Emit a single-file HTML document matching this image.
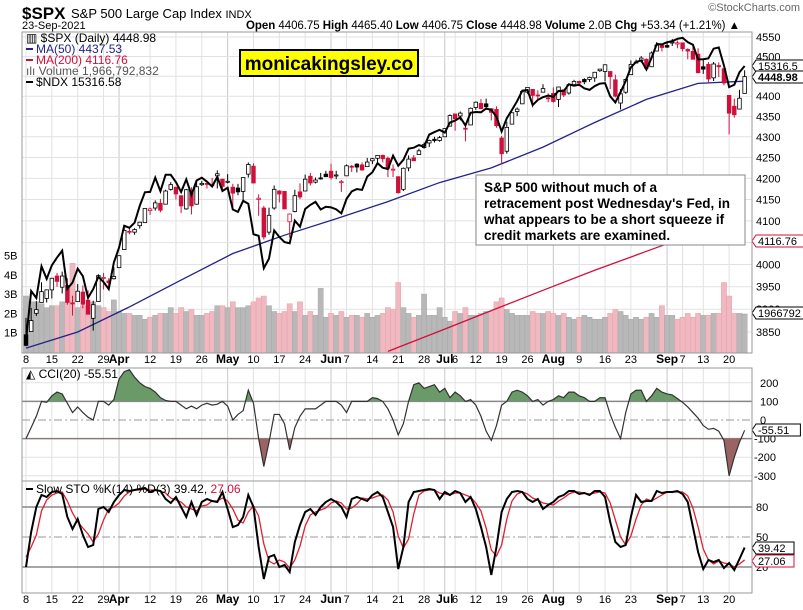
<!DOCTYPE html>
<html><head><meta charset="utf-8"><style>
html,body{margin:0;padding:0;background:#fff;}
svg{display:block;font-family:"Liberation Sans",Arial,sans-serif;}
</style></head><body>
<svg id="c" width="803" height="610" viewBox="0 0 803 610" xmlns="http://www.w3.org/2000/svg">
<defs>
<clipPath id="mainClip"><rect x="22" y="32" width="730" height="321"/></clipPath>
<clipPath id="cciUp"><rect x="22" y="368" width="730" height="33"/></clipPath>
<clipPath id="cciDn"><rect x="22" y="438" width="730" height="43"/></clipPath>
<clipPath id="stoClip"><rect x="22" y="482" width="730" height="111"/></clipPath>
</defs>
<g id="grid"></g>
<g id="vol" clip-path="url(#mainClip)"></g>
<g id="ma" clip-path="url(#mainClip)"></g>
<g id="candles" clip-path="url(#mainClip)"></g>
<g id="ndx" clip-path="url(#mainClip)"></g>
<g id="cci"></g>
<g id="sto" clip-path="url(#stoClip)"></g>
<g id="axes"></g>

<rect x="22" y="32" width="730" height="321" fill="none" stroke="#999"/>
<rect x="22" y="368" width="730" height="113" fill="none" stroke="#999"/>
<rect x="22" y="481" width="730" height="112" fill="none" stroke="#999"/>

<text x="22" y="19" font-size="17" font-weight="bold">$SPX</text>
<text x="71" y="18" font-size="13">S&amp;P 500 Large Cap Index <tspan font-size="11">INDX</tspan></text>
<text x="22" y="29" font-size="11">23-Sep-2021</text>
<text x="246" y="29" font-size="11.5" textLength="494" lengthAdjust="spacing"><tspan font-weight="bold">Open</tspan> 4406.75 <tspan font-weight="bold">High</tspan> 4465.40 <tspan font-weight="bold">Low</tspan> 4406.75 <tspan font-weight="bold">Close</tspan> 4448.98 <tspan font-weight="bold">Volume</tspan> 2.0B <tspan font-weight="bold">Chg</tspan> +53.34 (+1.21%) ▲</text>
<text x="800" y="11" font-size="11" fill="#666" text-anchor="end">©StockCharts.com</text>

<g font-size="12">
<text x="26" y="42">▥ $SPX (Daily) 4448.98</text>
<line x1="26" y1="49" x2="33" y2="49" stroke="#22228a" stroke-width="2"/><text x="36" y="53" fill="#22228a">MA(50) 4437.53</text>
<line x1="26" y1="60" x2="33" y2="60" stroke="#d0103a" stroke-width="2"/><text x="36" y="64" fill="#d0103a">MA(200) 4116.76</text>
<text x="26" y="75" fill="#555">ılı Volume 1,966,792,832</text>
<line x1="26" y1="82" x2="33" y2="82" stroke="#000" stroke-width="2"/><text x="36" y="86">$NDX 15316.58</text>
</g>
<rect x="240" y="50" width="178" height="26" fill="#ffff00" stroke="#000" stroke-width="2"/>
<text x="329" y="70" font-size="19" font-weight="bold" text-anchor="middle">monicakingsley.co</text>

<rect x="476" y="175" width="269" height="70" fill="#fff" stroke="#888"/>
<text font-size="13.5" font-weight="bold">
<tspan x="484" y="192">S&amp;P 500 without much of a</tspan>
<tspan x="484" y="208">retracement post Wednesday's Fed, in</tspan>
<tspan x="484" y="224">what appears to be a short squeeze if</tspan>
<tspan x="484" y="240">credit markets are examined.</tspan>
</text>

<g font-size="12"><text x="26" y="378">◭ CCI(20) -55.51</text></g>
<g font-size="12"><line x1="26" y1="489" x2="33" y2="489" stroke="#000" stroke-width="2"/><text x="36" y="493">Slow STO %K(14) %D(3) 39.42, <tspan fill="#d0103a">27.06</tspan></text></g>
</svg>
<script>
const closes=[3821,3875,3899,3939,3943,3969,3962,3974,3915,3913,3940,3911,3889,3910,3975,3971,3959,3973,
4020,4078,4074,4080,4097,4129,4128,4142,4125,4170,4185,4163,4135,4173,4135,4180,4188,4187,4184,4211,4181,
4193,4165,4168,4202,4233,4189,4153,4063,4113,4174,4163,4128,4116,4159,4156,4198,4189,4196,4201,4204,
4202,4208,4192,4230,4227,4227,4220,4239,4247,4255,4247,4224,4222,4166,4224,4246,4242,4266,4281,4291,4291,4298,
4320,4352,4344,4358,4320,4370,4385,4369,4374,4360,4327,4259,4323,4359,4368,4412,4422,4402,4401,4419,4395,
4387,4423,4403,4429,4437,4433,4436,4447,4460,4468,4479,4449,4400,4406,4442,4480,4486,4496,4470,4509,4529,4523,
4524,4537,4535,4520,4514,4493,4459,4468,4443,4481,4474,4433,4358,4354,4395,4449];
const opens=[3844,3851,3891,3915,3924,3943,3974,3949,3953,3914,3917,3938,3920,3880,3917,3969,3963,3968,
3993,4034,4076,4074,4089,4096,4124,4130,4141,4139,4174,4179,4159,4128,4170,4139,4185,4188,4185,4206,4198,
4191,4179,4177,4169,4210,4229,4150,4130,4074,4130,4170,4169,4098,4122,4168,4170,4205,4191,4201,4210,
4217,4207,4191,4206,4229,4234,4232,4228,4242,4248,4255,4248,4220,4204,4174,4225,4249,4257,4274,4285,4294,4291,
4300,4326,4356,4351,4321,4329,4372,4382,4381,4369,4367,4297,4265,4331,4362,4381,4410,4417,4403,4410,4396,
4407,4392,4416,4408,4429,4437,4442,4442,4446,4464,4462,4462,4441,4383,4410,4454,4484,4490,4493,4474,4514,4529,
4528,4535,4532,4535,4518,4513,4506,4474,4480,4446,4477,4469,4402,4375,4368,4407];
const highs=[3881,3903,3918,3960,3944,3970,3981,3984,3969,3930,3956,3953,3942,3919,3978,3981,3969,3994,
4021,4083,4087,4083,4098,4129,4131,4148,4151,4173,4191,4180,4159,4175,4179,4194,4194,4193,4201,4219,4199,
4210,4187,4187,4202,4238,4236,4162,4135,4131,4183,4172,4170,4117,4173,4188,4209,4213,4202,4213,4218,
4235,4218,4196,4233,4232,4236,4238,4249,4249,4255,4257,4252,4233,4204,4226,4255,4256,4271,4286,4293,4300,4302,
4321,4355,4357,4362,4330,4372,4387,4393,4394,4370,4375,4302,4337,4359,4372,4415,4422,4416,4415,4430,4407,
4422,4423,4416,4429,4441,4439,4445,4449,4461,4468,4480,4462,4454,4418,4444,4490,4492,4501,4495,4513,4537,4531,
4537,4545,4541,4535,4521,4529,4521,4492,4486,4486,4485,4471,4402,4394,4416,4465];
const lows=[3819,3851,3885,3915,3915,3924,3950,3935,3910,3886,3917,3902,3889,3853,3917,3944,3944,3966,
3992,4034,4069,4068,4082,4095,4114,4124,4120,4139,4171,4150,4118,4126,4115,4138,4182,4176,4181,4176,4174,
4188,4128,4160,4147,4202,4188,4112,4057,4068,4126,4143,4127,4061,4120,4151,4170,4183,4188,4197,4203,
4197,4198,4168,4206,4215,4214,4218,4227,4234,4235,4238,4203,4203,4164,4170,4217,4241,4257,4271,4275,4286,4288,
4300,4326,4315,4340,4289,4329,4366,4368,4366,4340,4322,4233,4259,4330,4351,4381,4406,4372,4388,4410,4385,
4384,4373,4398,4404,4429,4425,4430,4436,4436,4461,4437,4418,4397,4367,4406,4453,4482,4485,4468,4474,4513,4513,
4522,4527,4521,4513,4493,4493,4457,4456,4435,4438,4448,4427,4306,4347,4367,4407];
const ndxCloses=[12300,12795,12724,13051,12920,13061,13142,13215,12817,12882,13026,12948,12726,12815,12942,12887,12815,13091,
13247,13481,13458,13513,13697,13846,13850,14009,13858,14041,14041,13958,13849,13990,13818,13977,14009,13964,13910,14017,13860,
13896,13657,13630,13752,13720,13389,13373,13031,13131,13430,13360,13306,13293,13535,13470,13662,13707,13740,13657,13687,
13680,13658,13614,13773,13856,13882,13872,14020,14069,14173,14120,14105,14257,14143,14210,14337,14348,14378,14360,14500,14529,14554,
14522,14640,14663,14700,14605,14754,14763,14760,14805,14788,14708,14536,14691,14789,14893,15017,15026,14846,14907,14940,14959,
14943,15015,15013,15095,15077,15089,15045,15027,15073,15103,15108,14950,14877,15000,15134,15300,15366,15385,15273,15417,15588,15583,
15610,15624,15653,15665,15612,15579,15398,15400,15410,15530,15546,15323,15060,15088,15240,15317];
const volumes=[2.9,2.6,2.6,2.5,2.3,2.4,2.4,2.6,2.6,4.6,2.3,2.4,2.4,2.6,2.4,2.3,2.1,2.7,
2.1,2.0,2.0,1.9,1.9,1.7,1.8,1.9,2.0,2.0,2.3,2.0,2.3,2.1,2.2,1.9,1.9,2.0,2.1,2.4,2.4,
2.3,2.6,2.3,2.3,2.4,2.6,2.8,2.9,2.4,2.1,2.0,2.1,2.5,2.1,2.6,1.9,2.1,1.9,3.3,1.8,
2.0,1.9,2.1,1.8,1.9,1.9,1.8,2.0,1.8,1.9,2.0,2.3,2.2,3.6,2.3,2.0,1.8,1.9,3.0,1.9,1.9,2.3,
1.8,1.6,2.1,2.0,2.3,1.9,1.9,2.0,2.1,2.1,2.6,2.8,2.2,2.0,1.9,1.9,1.9,2.1,2.0,2.0,2.1,
2.0,1.9,2.0,1.8,1.7,1.8,1.9,1.8,1.7,1.7,1.8,2.0,2.2,2.1,1.9,1.7,1.8,1.7,1.8,2.0,1.8,2.4,
1.9,1.9,1.7,1.8,2.0,1.8,2.0,1.9,1.9,2.0,2.0,3.6,2.9,2.0,2.0,1.97];
const ma50Idx=[0,10,20,30,40,50,60,70,80,90,100,110,120,130,139];
const ma50Vals=[3815,3850,3905,3965,4025,4067,4105,4145,4190,4225,4275,4335,4392,4432,4437.53];
const ma200Idx=[70,80,90,100,110,120,130,139];
const ma200Vals=[3808,3852,3897,3942,3987,4030,4073,4116.76];
const cciVals=[-100,-40,20,100,95,130,150,140,90,40,70,40,15,0,100,100,80,110,220,260,270,230,200,180,170,150,120,105,100,100,80,60,75,60,80,90,80,85,100,75,0,30,50,160,90,-100,-250,-120,30,30,-20,-160,-40,20,60,60,60,80,100,100,100,80,40,100,100,100,100,120,115,100,60,0,-80,-20,100,190,200,170,180,190,150,170,120,150,130,100,110,80,20,-60,-110,-30,80,100,150,160,150,130,100,110,80,100,110,130,120,150,150,130,120,100,100,120,120,30,-40,-100,40,140,160,160,100,130,170,150,140,135,115,95,70,40,10,-30,-50,-45,-60,-110,-300,-200,-120,-55.51];
const stoK=[20,55,80,92,90,95,96,93,70,58,68,52,40,42,78,80,75,85,92,97,96,97,98,99,95,97,96,88,84,90,80,70,85,72,85,88,86,85,95,78,60,62,70,92,80,40,8,30,32,20,22,15,45,62,75,78,72,80,85,88,85,80,70,88,90,88,86,92,95,90,75,60,18,40,85,95,96,97,98,97,88,95,92,96,94,85,90,78,60,40,12,40,75,88,95,96,95,88,85,88,78,82,85,90,92,96,96,93,94,92,96,96,90,65,45,40,42,70,92,85,86,86,96,94,95,95,96,93,85,60,35,18,27,25,27,19,24,17,28,39.42];
const stoD=[30,40,52,76,87,92,94,95,86,74,65,59,53,45,53,67,78,80,84,91,95,97,97,98,97,97,96,94,89,87,85,80,78,76,81,82,86,86,89,86,78,67,64,75,81,71,43,26,23,27,25,19,27,41,61,72,75,77,79,84,86,84,78,79,83,89,88,89,91,92,87,75,51,39,48,73,92,96,97,97,94,93,92,94,94,92,90,84,76,59,37,31,42,68,86,93,95,93,89,87,84,83,82,86,89,93,95,95,94,93,94,95,94,84,67,50,42,51,68,82,88,86,89,92,95,95,95,95,91,79,60,38,27,23,26,24,23,20,23,27.06];
const priceTicks=[3850,3900,3950,4000,4050,4100,4150,4200,4250,4300,4350,4400,4450,4500,4550];
const volTicks=[1,2,3,4,5];
const cciTicks=[200,100,0,-100,-200,-300];
const stoTicks=[80,50,20];
const dateIdx=[0,5,10,15,18,24,29,34,39,44,49,54,59,62,67,72,77,81,83,87,92,97,102,107,112,117,124,127,131,136];
const dateLabels=["8","15","22","29","Apr","12","19","26","May","10","17","24","Jun","7","14","21","28","Jul","6","12","19","26","Aug","9","16","23","Sep","7","13","20"];

const NS="http://www.w3.org/2000/svg";
const X0=26,DX=5.17;
const x=i=>X0+DX*i;
const py=p=>37+1766*Math.log(4550/p);
const ny=v=>66+1251*Math.log(15316.58/v);
const vy=v=>352-19.3*v;
const cy=v=>420-0.186*v;
const sy=v=>587-v;
function mk(tag,attrs,parent){const e=document.createElementNS(NS,tag);for(const k in attrs)e.setAttribute(k,attrs[k]);parent.appendChild(e);return e;}
const G=id=>document.getElementById(id);

const grid=G('grid');
dateIdx.forEach((d,k)=>{
  const isMonth=/[A-Za-z]/.test(dateLabels[k]);
  [[32,353],[368,481],[481,593]].forEach(r=>{
    const l=mk('line',{x1:x(d),x2:x(d),y1:r[0],y2:r[1],stroke:isMonth?'#c8c8c8':'#e2e2e2'},grid);
    
    
  });
});
priceTicks.forEach(p=>{
  const l=mk('line',{x1:22,x2:752,y1:py(p),y2:py(p),stroke:'#e2e2e2'},grid);
  
  
});
[200,-200,-300].forEach(v=>{const l=mk('line',{x1:22,x2:752,y1:cy(v),y2:cy(v),stroke:'#e2e2e2'},grid);
  
  });
[100,-100].forEach(v=>{const l=mk('line',{x1:22,x2:752,y1:cy(v),y2:cy(v),stroke:'#888','stroke-width':1.5},grid);
  
  });
{const l=mk('line',{x1:22,x2:752,y1:cy(0),y2:cy(0),stroke:'#999','stroke-dasharray':'8,3,2,3'},grid);
  
  }
[80,20].forEach(v=>{const l=mk('line',{x1:22,x2:752,y1:sy(v),y2:sy(v),stroke:'#888','stroke-width':1.5},grid);
  
  });
{const l=mk('line',{x1:22,x2:752,y1:sy(50),y2:sy(50),stroke:'#999','stroke-dasharray':'8,3,2,3'},grid);
  
  }

const vol=G('vol');
volumes.forEach((v,i)=>{
  const down=i>0&&closes[i]<closes[i-1];
  const r=mk('rect',{x:x(i)-2.6,y:vy(v),width:5.17,height:352-vy(v)+2,fill:down?'#f0b8c0':'#b8b8b8',stroke:down?'#e8a0aa':'#a8a8a8','stroke-width':0.5},vol);
  
  
});

const ma=G('ma');
let p50=mk('polyline',{points:ma50Idx.map((d,k)=>x(d)+','+py(ma50Vals[k])).join(' '),fill:'none',stroke:'#22228a','stroke-width':1.3},ma);


let p200=mk('polyline',{points:ma200Idx.map((d,k)=>x(d)+','+py(ma200Vals[k])).join(' '),fill:'none',stroke:'#d0103a','stroke-width':1.3},ma);



const cg=G('candles');
closes.forEach((c,i)=>{
  const o=opens[i];
  const col=(i>0&&c<closes[i-1])?'#d0103a':'#000';
  const wick=mk('line',{x1:x(i),x2:x(i),y1:py(highs[i]),y2:py(lows[i]),stroke:col,'stroke-width':1},cg);
  
  
  const top=py(Math.max(o,c)),bot=py(Math.min(o,c));
  const b=mk('rect',{x:x(i)-1.8,y:top,width:3.6,height:Math.max(1,bot-top),fill:c>o?'#fff':col,stroke:col,'stroke-width':0.8},cg);
  
  
});

const nl=mk('polyline',{points:ndxCloses.map((v,i)=>x(i)+','+ny(v)).join(' '),fill:'none',stroke:'#000','stroke-width':2},G('ndx'));



const cg2=G('cci');
const cpts=cciVals.map((v,i)=>x(i)+','+cy(v)).join(' ');
const up=mk('polygon',{points:x(0)+','+cy(100)+' '+cpts+' '+x(139)+','+cy(100),fill:'#6a9a68',stroke:'none','clip-path':'url(#cciUp)'},cg2);


const dn=mk('polygon',{points:x(0)+','+cy(-100)+' '+cpts+' '+x(139)+','+cy(-100),fill:'#9a6464',stroke:'none','clip-path':'url(#cciDn)'},cg2);


const cl=mk('polyline',{points:cpts,fill:'none',stroke:'#333','stroke-width':1.2},cg2);



const sg=G('sto');
const dl=mk('polyline',{points:stoD.map((v,i)=>x(i)+','+sy(v)).join(' '),fill:'none',stroke:'#e02030','stroke-width':1.3},sg);


const kl=mk('polyline',{points:stoK.map((v,i)=>x(i)+','+sy(v)).join(' '),fill:'none',stroke:'#000','stroke-width':2},sg);



const ax=G('axes');
function txt(s,X,Y,attrs,name){const t=mk('text',Object.assign({x:X,y:Y,'font-size':11},attrs||{}),ax);t.textContent=s;
  
  return t;}
priceTicks.forEach(p=>txt(String(p),756,py(p)+4,{},'price-tick-label'));
volTicks.forEach(v=>txt(v+'B',4,vy(v)+4,{},'volume-tick-label'));
cciTicks.forEach(v=>txt(String(v),v<0?754:760,cy(v)+4,{},'cci-tick-label'));
stoTicks.forEach(v=>txt(String(v),756,sy(v)+4,{},'sto-tick-label'));
dateIdx.forEach((d,k)=>{
  const isMonth=/[A-Za-z]/.test(dateLabels[k]);
  [363,603].forEach(Y=>txt(dateLabels[k],x(d),Y,{'text-anchor':'middle','font-size':isMonth?12:11,'font-weight':isMonth?'bold':'normal'},'date-axis-label'));
});
function tag(s,Y,color,bold,name){
  const w=s.length*6.4+6;
  const p=mk('path',{d:`M752,${Y} l4,-6 h${w} v12 h-${w} z`,fill:'#fff',stroke:color,'stroke-width':1},ax);
  
  
  txt(s,758,Y+4,{'font-weight':bold?'bold':'normal',fill:'#000'},name);
}
tag('15316.5',66,'#000',false,'ndx-value-tag');
tag('4448.98',77,'#000',true,'price-value-tag');
tag('4116.76',241,'#d0103a',false,'ma200-value-tag');
tag('1966792',313,'#000',false,'volume-value-tag');
tag('-55.51',430,'#000',false,'cci-value-tag');
tag('39.42',548,'#000',false,'sto-k-value-tag');
tag('27.06',561,'#d0103a',false,'sto-d-value-tag');
</script>
</body></html>
